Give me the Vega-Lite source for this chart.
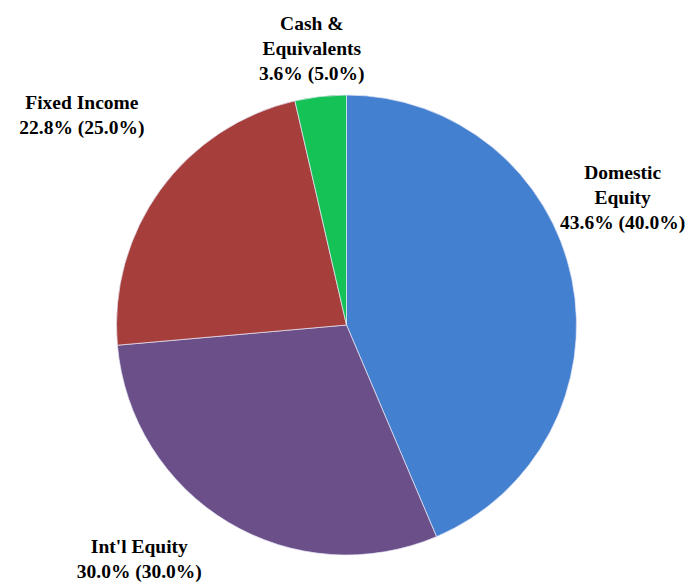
{
  "$schema": "https://vega.github.io/schema/vega-lite/v6.json",
  "width": 693,
  "height": 514,
  "autosize": {"type": "none"},
  "padding": {"top": 68, "bottom": 0, "left": 0, "right": 0},
  "background": "#ffffff",
  "config": {"view": {"stroke": null}},
  "data": {
    "values": [
      {"category": "Domestic Equity", "order": 1, "value": 43.6, "label": "Domestic\nEquity\n43.6% (40.0%)"},
      {"category": "Int'l Equity", "order": 2, "value": 30.0, "label": "Int'l Equity\n30.0% (30.0%)"},
      {"category": "Fixed Income", "order": 3, "value": 22.8, "label": "Fixed Income\n22.8% (25.0%)"},
      {"category": "Cash & Equivalents", "order": 4, "value": 3.6, "label": "Cash &\nEquivalents\n3.6% (5.0%)"}
    ]
  },
  "encoding": {
    "theta": {"field": "value", "type": "quantitative", "stack": true},
    "order": {"field": "order", "type": "quantitative"}
  },
  "layer": [
    {
      "mark": {"type": "arc", "outerRadius": 230, "stroke": "#e8e8f8", "strokeWidth": 1, "strokeOpacity": 0.7},
      "encoding": {
        "color": {
          "field": "category",
          "type": "nominal",
          "legend": null,
          "scale": {
            "domain": ["Domestic Equity", "Int'l Equity", "Fixed Income", "Cash & Equivalents"],
            "range": ["#4480d0", "#6a4f88", "#a63e3c", "#14c255"]
          }
        }
      }
    },
    {
      "mark": {"type": "text", "radius": 290, "dx": -8, "dy": -94, "font": "Liberation Serif", "fontWeight": "bold", "fontSize": 19.5, "lineHeight": 25, "lineBreak": "\n", "color": "#000000", "align": "center", "baseline": "middle"},
      "encoding": {"text": {"condition": {"test": "datum.category === 'Domestic Equity'", "field": "label", "type": "nominal"}, "value": ""}}
    },
    {
      "mark": {"type": "text", "radius": 290, "dx": -58, "dy": -27, "font": "Liberation Serif", "fontWeight": "bold", "fontSize": 19.5, "lineHeight": 25, "lineBreak": "\n", "color": "#000000", "align": "center", "baseline": "middle"},
      "encoding": {"text": {"condition": {"test": "datum.category === \"Int'l Equity\"", "field": "label", "type": "nominal"}, "value": ""}}
    },
    {
      "mark": {"type": "text", "radius": 290, "dx": -30, "dy": -52, "font": "Liberation Serif", "fontWeight": "bold", "fontSize": 19.5, "lineHeight": 25, "lineBreak": "\n", "color": "#000000", "align": "center", "baseline": "middle"},
      "encoding": {"text": {"condition": {"test": "datum.category === 'Fixed Income'", "field": "label", "type": "nominal"}, "value": ""}}
    },
    {
      "mark": {"type": "text", "radius": 290, "dx": -2, "dy": -13, "font": "Liberation Serif", "fontWeight": "bold", "fontSize": 19.5, "lineHeight": 25, "lineBreak": "\n", "color": "#000000", "align": "center", "baseline": "middle"},
      "encoding": {"text": {"condition": {"test": "datum.category === 'Cash & Equivalents'", "field": "label", "type": "nominal"}, "value": ""}}
    }
  ]
}
